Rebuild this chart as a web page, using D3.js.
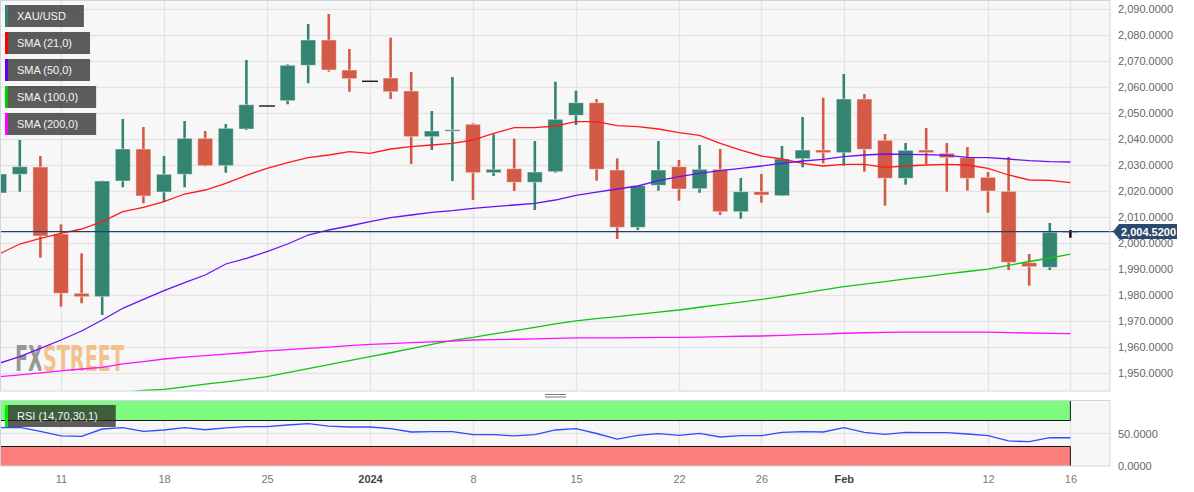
<!DOCTYPE html>
<html>
<head>
<meta charset="utf-8">
<script src="https://cdn.jsdelivr.net/npm/d3@7"></script>
<style>
  html, body { margin: 0; padding: 0; background: #ffffff; }
  svg { display: block; font-family: "Liberation Sans", Arial, sans-serif; }
</style>
</head>
<body>
<svg id="chart" width="1194" height="492"></svg>
<script>
// ---------------- DATA ----------------
const dates = ["2023-12-06","2023-12-07","2023-12-08","2023-12-11","2023-12-12","2023-12-13","2023-12-14","2023-12-15",
  "2023-12-18","2023-12-19","2023-12-20","2023-12-21","2023-12-22","2023-12-25","2023-12-26","2023-12-27","2023-12-28","2023-12-29",
  "2024-01-01","2024-01-02","2024-01-03","2024-01-04","2024-01-05","2024-01-08","2024-01-09","2024-01-10","2024-01-11","2024-01-12",
  "2024-01-15","2024-01-16","2024-01-17","2024-01-18","2024-01-19","2024-01-22","2024-01-23","2024-01-24","2024-01-25","2024-01-26",
  "2024-01-29","2024-01-30","2024-01-31","2024-02-01","2024-02-02","2024-02-05","2024-02-06","2024-02-07","2024-02-08","2024-02-09",
  "2024-02-12","2024-02-13","2024-02-14","2024-02-15","2024-02-16"];

const open  = [2019.35,2026.54,2029.35,2003.58,1980.77,1979.46,2023.96,2036.27,2019.73,2026.54,2040.38,2029.85,2043.96,2052.81,2054.85,2068.46,2078.19,2066.65,
  2062.31,2063.58,2058.58,2041.00,2043.31,2045.77,2027.15,2028.69,2023.46,2027.54,2049.23,2054.08,2028.19,2006.15,2022.31,2029.46,2021.00,2028.46,2012.15,2019.85,
  2018.31,2032.54,2035.88,2034.85,2055.50,2039.62,2025.00,2035.88,2034.62,2032.92,2025.38,2020.00,1992.54,1990.77,2004.23];
const high  = [2035.90,2039.73,2033.58,2007.31,1996.15,2024.10,2047.81,2044.73,2033.58,2047.04,2043.19,2045.88,2070.50,2052.81,2068.85,2084.35,2088.19,2074.73,
  2062.31,2079.08,2065.88,2050.88,2063.96,2046.15,2041.92,2040.23,2039.35,2062.15,2058.69,2055.50,2032.69,2022.15,2039.35,2032.04,2037.81,2036.27,2025.12,2026.65,
  2037.42,2048.58,2056.00,2065.12,2057.42,2042.04,2038.58,2044.35,2038.58,2037.04,2027.42,2033.19,1995.88,2007.81,2005.12];
const low   = [2017.40,2019.85,1994.46,1975.62,1976.92,1972.42,2021.54,2015.38,2016.00,2021.54,2029.60,2027.15,2043.58,2052.81,2053.46,2061.54,2066.00,2058.31,
  2062.31,2055.50,2030.50,2035.88,2023.96,2016.65,2025.88,2020.12,2012.81,2027.15,2045.50,2024.08,2001.65,2005.12,2020.23,2016.38,2019.46,2010.88,2009.46,2015.62,
  2018.20,2029.23,2030.77,2029.85,2027.54,2014.46,2022.54,2030.50,2019.85,2020.23,2011.77,1989.73,1983.69,1989.73,2002.15];
const close = [2026.65,2029.46,2002.81,1980.77,1979.46,2023.96,2036.27,2018.19,2026.54,2040.38,2029.85,2044.23,2053.31,2052.81,2068.46,2078.19,2066.65,2063.31,
  2062.31,2058.31,2041.00,2043.19,2043.69,2027.15,2028.46,2023.46,2027.42,2047.69,2054.08,2028.46,2006.15,2022.15,2028.19,2020.88,2028.46,2012.15,2019.85,2018.58,
  2032.42,2035.88,2034.85,2055.50,2036.15,2025.00,2035.77,2034.85,2032.92,2025.00,2020.12,1992.69,1991.00,2004.23,2004.52];

const sma21 = [1995.88,1999.73,2001.92,2003.85,2005.50,2008.31,2012.15,2013.85,2016.00,2018.96,2020.50,2023.08,2026.15,2028.85,2031.00,2032.92,2033.96,2035.23,
  2034.62,2036.27,2037.15,2037.81,2038.46,2039.73,2042.31,2044.46,2044.46,2045.12,2046.77,2046.77,2045.23,2044.85,2043.96,2042.54,2041.54,2038.46,2035.88,2033.58,
  2032.42,2030.77,2029.73,2030.38,2030.38,2029.23,2029.73,2030.12,2030.38,2030.12,2028.85,2026.27,2024.35,2024.23,2023.31];
const sma50 = [1953.85,1956.38,1959.62,1962.81,1966.27,1970.50,1975.00,1978.46,1981.77,1984.85,1987.81,1992.04,1994.23,1996.77,1999.73,2003.19,2005.12,2006.65,
  2008.31,2009.85,2010.88,2011.92,2012.54,2013.46,2014.08,2014.73,2015.38,2016.65,2018.40,2019.70,2020.88,2022.04,2024.08,2025.62,2026.92,2027.92,2028.85,2029.73,
  2030.77,2031.65,2032.31,2033.31,2033.96,2034.35,2034.23,2034.08,2033.85,2033.08,2032.92,2032.42,2031.77,2031.38,2031.27];
// SMA 100 enters the visible range mid-December (earlier values lie below the pane)
const sma100 = [null,null,null,null,null,null,1942.60,1943.40,1943.85,1944.80,1945.80,1946.70,1947.70,1948.70,1950.30,1951.80,1953.30,1954.90,
  1956.40,1957.90,1959.50,1961.10,1962.70,1963.85,1965.20,1966.40,1967.70,1969.00,1970.20,1971.00,1971.80,1972.70,1973.50,1974.35,1975.40,1976.40,1977.40,1978.40,
  1979.60,1980.85,1982.10,1983.30,1984.30,1985.30,1986.30,1987.20,1988.20,1989.15,1990.10,1991.50,1993.00,1994.35,1995.80];
const sma200 = [1948.70,1949.40,1950.15,1950.90,1951.65,1952.30,1953.60,1954.50,1955.50,1956.20,1956.80,1957.40,1958.00,1958.60,1959.10,1959.60,1960.10,1960.65,
  1961.15,1961.45,1961.80,1962.10,1962.40,1962.80,1962.95,1963.10,1963.25,1963.40,1963.60,1963.60,1963.65,1963.70,1963.80,1963.85,1963.95,1964.10,1964.25,1964.35,
  1964.55,1964.85,1965.10,1965.40,1965.60,1965.75,1965.80,1965.80,1965.80,1965.80,1965.80,1965.65,1965.50,1965.35,1965.23];
const rsi = [58.9,59.5,53.1,46.2,45.7,56.9,58.9,53.4,55.4,58.9,55.8,58.5,60.5,60.5,63.1,65.1,61.5,60.0,
  60.0,57.4,52.3,52.8,52.8,48.2,48.2,46.2,48.2,55.4,57.4,50.0,41.5,47.2,49.7,47.2,50.3,44.6,46.6,46.6,
  51.8,52.8,52.3,58.9,51.8,48.8,51.8,51.2,51.2,49.2,46.6,38.5,37.4,43.5,43.5];

const priceTicks = [1950,1960,1970,1980,1990,2000,2010,2020,2030,2040,2050,2060,2070,2080,2090];
const rsiTicks = [0, 50];
const rsiLevels = [30, 70];
const tickDates = ["2023-12-11","2023-12-18","2023-12-25","2024-01-01","2024-01-08","2024-01-15","2024-01-22","2024-01-26","2024-02-01","2024-02-12","2024-02-16"];
const tickTexts = ["11","18","25","2024","8","15","22","26","Feb","12","16"];
const boldTicks = ["2024","Feb"];
const legendNames = ["XAU/USD","SMA (21,0)","SMA (50,0)","SMA (100,0)","SMA (200,0)"];
const rsiLabel = "RSI (14,70,30,1)";
const watermark = "FXSTREET";
const lastPrice = close[close.length - 1];

// ---------------- LAYOUT ----------------
const svg = d3.select("#chart");
const plotL = 0, plotR = 1110;
const mainTop = 0, mainBot = 391;
const rsiTop = 401, rsiBot = 466;
const up = "#338471", down = "#d45a48";
const smaColors = ["#ff1a1a", "#6a10f5", "#11c411", "#ff10ff"];
const legendStripes = [up, "#ff0000", "#6200ee", "#00cc00", "#ff00ff"];
const gridCol = "#e5e5e5";

const x = d3.scalePoint().domain(dates).range([-0.8, 1070.4]);
const y = d3.scaleLinear().domain([1950, 2090]).range([373.3, 9.3]);
const yR = d3.scaleLinear().domain([0, 100]).range([rsiBot, rsiTop]);

svg.append("rect").attr("width", 1194).attr("height", 492).attr("fill", "#fff");

const defs = svg.append("defs");
defs.append("clipPath").attr("id", "clipMain").append("rect")
  .attr("x", plotL).attr("y", mainTop).attr("width", plotR - plotL).attr("height", mainBot - mainTop);
defs.append("clipPath").attr("id", "clipRsi").append("rect")
  .attr("x", plotL).attr("y", rsiTop).attr("width", plotR - plotL).attr("height", rsiBot - rsiTop);
// two-tone fill for the watermark: grey "FX", orange "STREET"
const wmGrad = defs.append("linearGradient").attr("id", "wmGrad")
  .attr("gradientUnits", "userSpaceOnUse").attr("x1", 15).attr("x2", 124).attr("y1", 0).attr("y2", 0);
const split = (40.5 - 15) / (124 - 15);
wmGrad.append("stop").attr("offset", 0).attr("stop-color", "#8d8d8d");
wmGrad.append("stop").attr("offset", split).attr("stop-color", "#8d8d8d");
wmGrad.append("stop").attr("offset", split).attr("stop-color", "#f2bd83");
wmGrad.append("stop").attr("offset", 1).attr("stop-color", "#f2bd83");

svg.append("rect").attr("x", plotL).attr("y", mainTop).attr("width", plotR - plotL).attr("height", mainBot - mainTop).attr("fill", "#f7f7f7");
svg.append("rect").attr("x", plotL).attr("y", rsiTop).attr("width", plotR - plotL).attr("height", rsiBot - rsiTop).attr("fill", "#f7f7f7");

// ---------------- MAIN PANE ----------------
const gMain = svg.append("g").attr("clip-path", "url(#clipMain)");

gMain.selectAll("line.hg").data(priceTicks).join("line")
  .attr("x1", plotL).attr("x2", plotR)
  .attr("y1", d => Math.round(y(d)) + 0.5).attr("y2", d => Math.round(y(d)) + 0.5)
  .attr("stroke", gridCol).attr("stroke-width", 1.5);
gMain.selectAll("line.vg").data(tickDates).join("line")
  .attr("x1", d => Math.round(x(d)) + 0.5).attr("x2", d => Math.round(x(d)) + 0.5)
  .attr("y1", mainTop).attr("y2", mainBot)
  .attr("stroke", gridCol).attr("stroke-width", 1.5);

// watermark
gMain.append("text").attr("x", 15).attr("y", 371)
  .attr("font-family", "'Liberation Sans Narrow', 'DejaVu Sans Condensed', 'Liberation Sans', sans-serif")
  .attr("font-weight", "bold").attr("font-size", 35)
  .attr("textLength", 109).attr("lengthAdjust", "spacingAndGlyphs")
  .attr("fill", "url(#wmGrad)").attr("opacity", 0.9).text(watermark);

// candles
const candles = dates.map((d, i) => ({ d, i, o: open[i], h: high[i], l: low[i], c: close[i] }));
const lastIdx = candles.length - 1;
const bodyW = 16;
const cg = gMain.append("g");
candles.forEach(k => {
  const cx = x(k.d);
  const isDoji = k.o === k.c && k.h === k.l;
  const isLast = k.i === lastIdx;
  if (isDoji) {
    cg.append("line").attr("x1", cx - bodyW / 2).attr("x2", cx + bodyW / 2)
      .attr("y1", y(k.c)).attr("y2", y(k.c)).attr("stroke", "#222").attr("stroke-width", 1.5);
    return;
  }
  if (isLast) {
    cg.append("line").attr("x1", cx - bodyW / 2).attr("x2", cx + bodyW / 2)
      .attr("y1", y(k.o)).attr("y2", y(k.o)).attr("stroke", "#c8c8c8").attr("stroke-width", 1.5);
    cg.append("line").attr("x1", cx).attr("x2", cx).attr("y1", y(k.h)).attr("y2", y(k.l))
      .attr("stroke", "#111").attr("stroke-width", 2.5);
    return;
  }
  const col = k.c >= k.o ? up : down;
  cg.append("line").attr("x1", cx).attr("x2", cx).attr("y1", y(k.h)).attr("y2", y(k.l))
    .attr("stroke", col).attr("stroke-width", 2.6);
  const top = y(Math.max(k.o, k.c)), bot = y(Math.min(k.o, k.c));
  cg.append("rect").attr("x", cx - bodyW / 2 + 0.5).attr("y", top)
    .attr("width", bodyW - 1).attr("height", Math.max(bot - top, 1.5))
    .attr("fill", col).attr("stroke", "rgba(255,255,255,0.45)").attr("stroke-width", 1);
});

// SMA lines
[sma21, sma50, sma100, sma200].forEach((arr, si) => {
  const line = d3.line().defined(v => v !== null).x((v, i) => x(dates[i])).y(v => y(v));
  gMain.append("path").datum(arr).attr("d", line)
    .attr("fill", "none").attr("stroke", smaColors[si]).attr("stroke-width", 1.3);
});

// last price line
svg.append("line").attr("x1", plotL).attr("x2", 1114)
  .attr("y1", y(lastPrice)).attr("y2", y(lastPrice))
  .attr("stroke", "#22406a").attr("stroke-width", 1.2);

svg.append("rect").attr("x", plotL + 0.5).attr("y", mainTop + 0.5)
  .attr("width", plotR - plotL - 0.5).attr("height", mainBot - mainTop - 0.5)
  .attr("fill", "none").attr("stroke", "#cdd5e5").attr("stroke-width", 1);

// y axis
const yAxis = d3.axisRight(y).tickValues(priceTicks).tickFormat(d3.format(",.4f")).tickSize(0).tickPadding(8);
const gy = svg.append("g").attr("transform", `translate(${plotR},0)`).call(yAxis);
gy.select(".domain").remove();
gy.selectAll("text").attr("font-size", 11).attr("fill", "#666").attr("font-family", "'Liberation Sans', Arial, sans-serif");

// price tag
const py = y(lastPrice);
svg.append("path")
  .attr("d", d3.line()([[1113, py], [1119, py - 7.5], [1177, py - 7.5], [1177, py + 7.5], [1119, py + 7.5]]) + "Z")
  .attr("fill", "#2c4a6e");
svg.append("text").attr("x", 1121).attr("y", py).attr("dy", "0.36em")
  .attr("font-size", 11).attr("font-weight", "bold").attr("fill", "#fff")
  .text(d3.format(",.4f")(lastPrice));

// legend
const lg = svg.append("g");
legendNames.forEach((name, i) => {
  const top = 5 + i * 27;
  const g = lg.append("g");
  const bg = g.append("rect").attr("x", 5).attr("y", top).attr("height", 22).attr("fill", "rgba(40,40,40,0.75)");
  g.append("rect").attr("x", 5).attr("y", top).attr("width", 3).attr("height", 22).attr("fill", legendStripes[i]);
  const t = g.append("text").attr("x", 17).attr("y", top + 11).attr("dy", "0.36em")
    .attr("font-size", 11).attr("fill", "#f4f4f4").text(name);
  bg.attr("width", t.node().getComputedTextLength() + 12 + 18);
});

// pane separator handle
[394.5, 397].forEach(v => {
  svg.append("line").attr("x1", 545).attr("x2", 566).attr("y1", v).attr("y2", v)
    .attr("stroke", "#7a7a7a").attr("stroke-width", 1);
});

// ---------------- RSI PANE ----------------
const gR = svg.append("g").attr("clip-path", "url(#clipRsi)");
gR.selectAll("line.vg").data(tickDates).join("line")
  .attr("x1", d => Math.round(x(d)) + 0.5).attr("x2", d => Math.round(x(d)) + 0.5)
  .attr("y1", rsiTop).attr("y2", rsiBot).attr("stroke", gridCol).attr("stroke-width", 1.5);
gR.append("line").attr("x1", plotL).attr("x2", plotR).attr("y1", yR(50)).attr("y2", yR(50))
  .attr("stroke", gridCol).attr("stroke-width", 1.5);

const xEnd = x(dates[lastIdx]);
gR.append("rect").attr("x", 0).attr("y", yR(100)).attr("width", xEnd).attr("height", yR(rsiLevels[1]) - yR(100))
  .attr("fill", "#77fb77").attr("opacity", 0.95);
gR.append("rect").attr("x", 0).attr("y", yR(rsiLevels[0])).attr("width", xEnd).attr("height", yR(0) - yR(rsiLevels[0]))
  .attr("fill", "#fb7776").attr("opacity", 0.95);
gR.append("path").attr("d", d3.line()([[0.5, yR(100)], [0.5, yR(70)], [xEnd, yR(70)], [xEnd, yR(100)]]))
  .attr("fill", "none").attr("stroke", "#1a1a1a").attr("stroke-width", 1);
gR.append("path").attr("d", d3.line()([[0.5, yR(0)], [0.5, yR(30)], [xEnd, yR(30)], [xEnd, yR(0)]]))
  .attr("fill", "none").attr("stroke", "#1a1a1a").attr("stroke-width", 1);

gR.append("path").datum(rsi)
  .attr("d", d3.line().x((v, i) => x(dates[i])).y(v => yR(v)))
  .attr("fill", "none").attr("stroke", "#2f4dff").attr("stroke-width", 1.3);

svg.append("rect").attr("x", plotL + 0.5).attr("y", rsiTop - 0.5)
  .attr("width", plotR - plotL - 0.5).attr("height", rsiBot - rsiTop + 0.5)
  .attr("fill", "none").attr("stroke", "#cdd5e5").attr("stroke-width", 1);

// RSI legend
const rg = svg.append("g");
const rbg = rg.append("rect").attr("x", 5).attr("y", 405).attr("height", 22).attr("fill", "rgba(40,40,40,0.75)");
rg.append("rect").attr("x", 5).attr("y", 405).attr("width", 3).attr("height", 22).attr("fill", "#00ee00");
const rt = rg.append("text").attr("x", 17).attr("y", 416).attr("dy", "0.36em")
  .attr("font-size", 11).attr("fill", "#f4f4f4").text(rsiLabel);
rbg.attr("width", rt.node().getComputedTextLength() + 12 + 18);

// RSI axis
const yRAxis = d3.axisRight(yR).tickValues(rsiTicks).tickFormat(d3.format(".4f")).tickSize(0).tickPadding(8);
const gry = svg.append("g").attr("transform", `translate(${plotR},0)`).call(yRAxis);
gry.select(".domain").remove();
gry.selectAll("text").attr("font-size", 11).attr("fill", "#666");

// x axis
const xAxis = d3.axisBottom(x).tickValues(tickDates).tickSize(0).tickPadding(9)
  .tickFormat(d => tickTexts[tickDates.indexOf(d)]);
const gx = svg.append("g").attr("transform", `translate(0,${rsiBot})`).call(xAxis);
gx.select(".domain").remove();
gx.selectAll("text").attr("font-size", 11)
  .attr("fill", d => boldTicks.includes(tickTexts[tickDates.indexOf(d)]) ? "#444" : "#777")
  .attr("font-weight", d => boldTicks.includes(tickTexts[tickDates.indexOf(d)]) ? "bold" : "normal");
</script>
</body>
</html>
